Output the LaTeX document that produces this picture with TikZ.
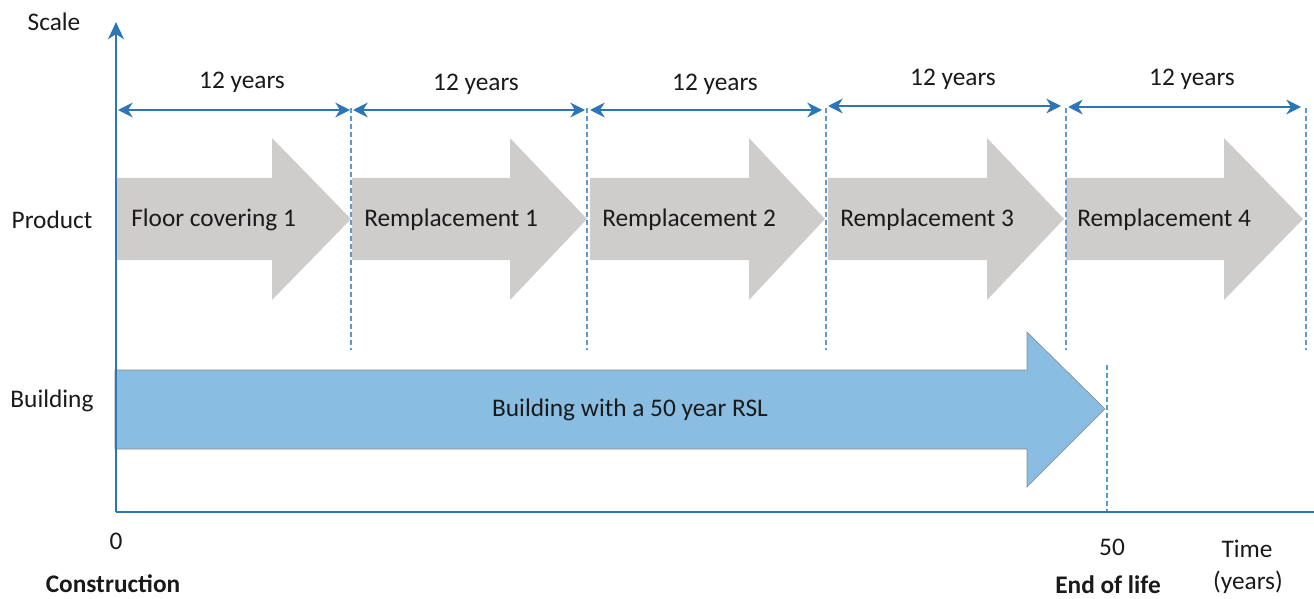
\documentclass[tikz,border=0pt]{standalone}
\usepackage{fontspec}
\setmainfont{Carlito}
\usetikzlibrary{arrows.meta}
\definecolor{axisblue}{HTML}{2E75B6}
\definecolor{dashblue}{HTML}{5B9BD5}
\definecolor{arrgray}{HTML}{CFCDCC}
\definecolor{bldblue}{HTML}{8ABDE2}
\definecolor{txt}{HTML}{1A1A1A}
\begin{document}
\begin{tikzpicture}[x=0.75pt,y=-0.75pt,
  lbl/.style={font=\fontsize{19}{23}\selectfont, text=txt, inner sep=0pt},
  blbl/.style={lbl, font=\fontsize{19}{23}\selectfont\bfseries},
  axis/.style={draw=axisblue, line width=1.7pt},
  span/.style={draw=axisblue, line width=1.5pt, {Stealth[length=11pt,width=11pt,inset=3.5pt]}-{Stealth[length=11pt,width=11pt,inset=3.5pt]}},
  dashln/.style={draw=dashblue, line width=0.9pt, dash pattern=on 3.5pt off 2.5pt},
  garrow/.style={fill=arrgray, draw=none},
  barrow/.style={fill=bldblue, draw=black!45, line width=0.5pt}
]
\useasboundingbox (0,0) rectangle (1314,599);

% gray product arrows
\foreach \i/\xs/\xb/\xt in {1/115/272/351, 2/352/510/587, 3/590/749/825, 4/828/987/1064, 5/1066/1224/1303}{
  \fill[garrow] (\xs,178) -- (\xb,178) -- (\xb,138) -- (\xt,219) -- (\xb,300) -- (\xb,260) -- (\xs,260) -- cycle;
}
% building arrow
\draw[barrow] (115,370) -- (1027,370) -- (1027,332) -- (1105,409) -- (1027,487) -- (1027,449) -- (115,449) -- cycle;

% dashed separators
\foreach \x in {351,587,826,1066,1306}{
  \draw[dashln] (\x,108) -- (\x,350);
}
\coordinate (eolTop) at (1107,365);
\coordinate (eolBot) at (1107,512);
\draw[dashln] (eolTop) -- (eolBot);

% axes
\coordinate (origin) at (116,512);
\coordinate (ytop) at (116,22);
\coordinate (xend) at (1314,512);
\draw[axis, -{Stealth[length=13pt,width=12pt,inset=4pt]}] (origin) -- (ytop);
\draw[axis] (origin) -- (xend);

% spans
\coordinate (s1a) at (118,110); \coordinate (s1b) at (350,110);
\coordinate (s2a) at (353,110); \coordinate (s2b) at (585,110);
\coordinate (s3a) at (590,110); \coordinate (s3b) at (822,110);
\coordinate (s4a) at (828,106); \coordinate (s4b) at (1061,106);
\coordinate (s5a) at (1068,107); \coordinate (s5b) at (1301,107);
\draw[span] (s1a) -- (s1b);
\draw[span] (s2a) -- (s2b);
\draw[span] (s3a) -- (s3b);
\draw[span] (s4a) -- (s4b);
\draw[span] (s5a) -- (s5b);
\node[lbl] (y1) at (242,82) {12 years};
\node[lbl] (y2) at (476,84) {12 years};
\node[lbl] (y3) at (715,84) {12 years};
\node[lbl] (y4) at (953,79) {12 years};
\node[lbl] (y5) at (1192,79) {12 years};

% arrow labels
\node[lbl, anchor=west] (p1) at (131,220) {Floor covering 1};
\node[lbl, anchor=west] (p2) at (364,220) {Remplacement 1};
\node[lbl, anchor=west] (p3) at (602,220) {Remplacement 2};
\node[lbl, anchor=west] (p4) at (840,220) {Remplacement 3};
\node[lbl, anchor=west] (p5) at (1077,220) {Remplacement 4};
\node[lbl] (b1) at (630,410) {Building with a 50 year RSL};

% axis labels
\node[lbl] (scale) at (54,22) {Scale};
\node[lbl] (product) at (52,220) {Product};
\node[lbl] (building) at (52,401) {Building};
\node[lbl] (zero) at (116,541) {0};
\node[blbl] (constr) at (113,584) {Construction};
\node[lbl] (fifty) at (1112,547) {50};
\node[blbl] (eol) at (1108,585) {End of life};
\node[lbl] (time) at (1247,549) {Time};
\node[lbl] (years) at (1248,582) {(years)};
\end{tikzpicture}
\end{document}
